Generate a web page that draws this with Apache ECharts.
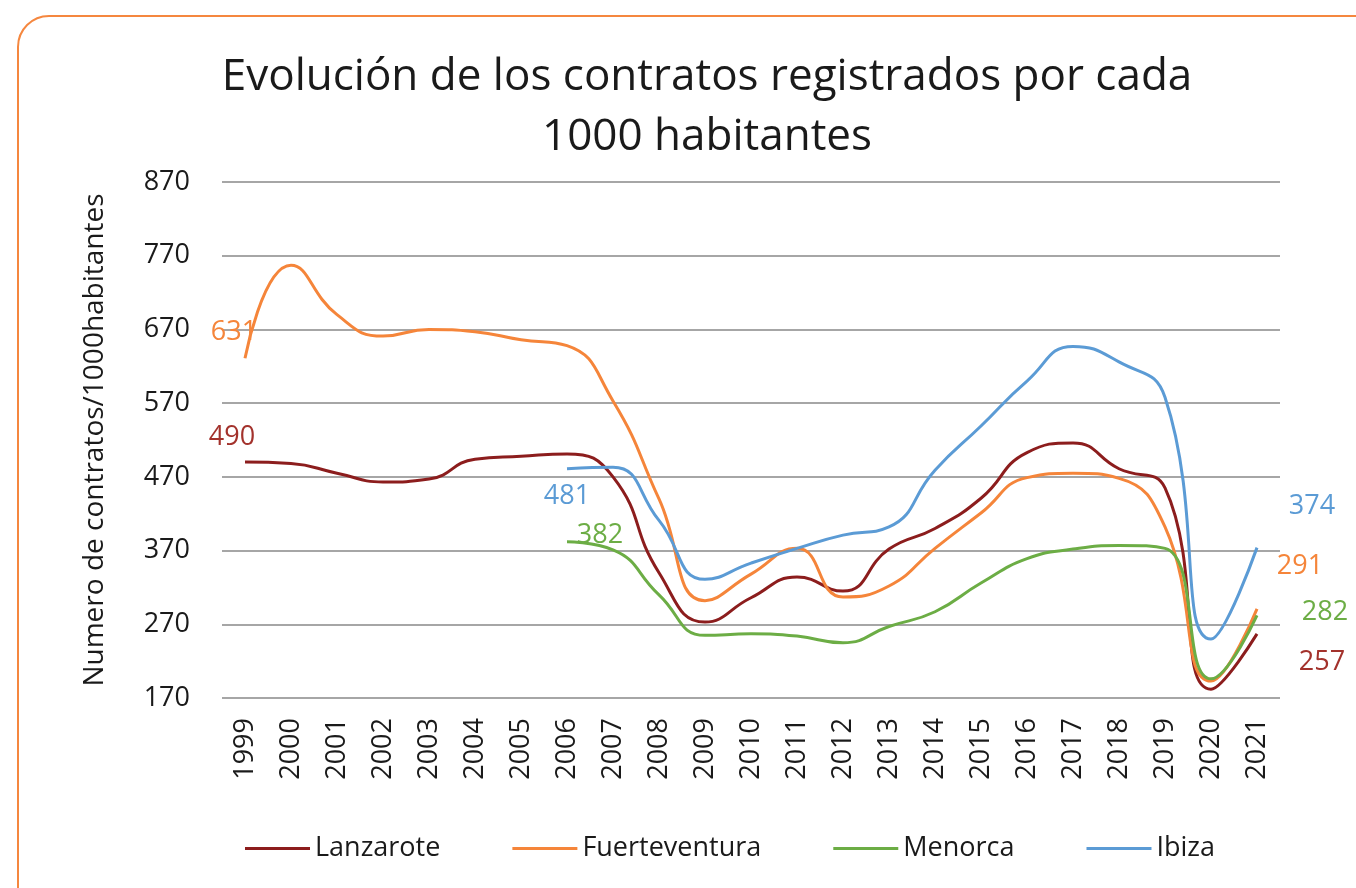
<!DOCTYPE html>
<html>
<head>
<meta charset="utf-8">
<script src="https://cdn.jsdelivr.net/npm/echarts@6/dist/echarts.min.js"></script>
<style>
  html, body { margin: 0; padding: 0; background: #fff; }
  #frame {
    position: absolute; left: 17px; top: 15px;
    width: 1400px; height: 940px;
    border: 2px solid #f5873f; border-radius: 32px;
    box-sizing: border-box;
  }
  #chart { position: absolute; left: 0; top: 0; width: 1356px; height: 888px; }
</style>
</head>
<body>
<div id="frame"></div>
<div id="chart"></div>
<script>
const years = ['1999', '2000', '2001', '2002', '2003', '2004', '2005', '2006', '2007', '2008', '2009',
  '2010', '2011', '2012', '2013', '2014', '2015', '2016', '2017', '2018', '2019', '2020', '2021'];

const lanzarote = [490, 488, 475, 463, 467, 494, 498, 501, 470, 340, 273, 306, 334, 315, 372, 400, 441, 503, 516, 481, 455, 182, 257];
const fuerteventura = [631, 757, 690, 661, 670, 667, 656, 648, 573, 440, 302, 338, 373, 307, 322, 373, 421, 469, 475, 468, 402, 193, 291];
const menorca = [null, null, null, null, null, null, null, 382, 371, 310, 255, 257, 254, 245, 267, 287, 326, 359, 372, 377, 373, 196, 282];
const ibiza = [null, null, null, null, null, null, null, 481, 483, 411, 331, 353, 373, 391, 402, 479, 539, 600, 647, 626, 578, 250, 374];

const yTicks = [170, 270, 370, 470, 570, 670, 770, 870];

const FONT = '"Open Sans", "Noto Sans", sans-serif';

// which points carry a value label, and where it sits relative to the point
const seriesDefs = [
  { name: 'Lanzarote', data: lanzarote, color: '#8c1d1d', labelColor: '#a3322c',
    labels: { 0: [-13, -25], 22: [65, 28] } },
  { name: 'Fuerteventura', data: fuerteventura, color: '#f5853a', labelColor: '#f5853a',
    labels: { 0: [-11, -26], 22: [43, -42] } },
  { name: 'Menorca', data: menorca, color: '#6cad45', labelColor: '#6cad45',
    labels: { 7: [33, -6], 22: [68, -3] } },
  { name: 'Ibiza', data: ibiza, color: '#5b9bd5', labelColor: '#5b9bd5',
    labels: { 7: [0, 28], 22: [55, -41] } }
];

function buildData(def) {
  return def.data.map((v, i) => {
    const off = def.labels[i];
    if (!off || v == null) return v;
    return {
      value: v,
      label: {
        show: true, position: 'inside', offset: off,
        color: def.labelColor, fontSize: 27, fontFamily: FONT
      }
    };
  });
}

const chart = echarts.init(document.getElementById('chart'));

chart.setOption({
  animation: false,
  title: {
    text: 'Evolución de los contratos registrados por cada\n1000 habitantes',
    left: 702,
    top: 42,
    textAlign: 'center',
    textStyle: { fontFamily: FONT, fontSize: 44, fontWeight: 'normal', color: '#1a1a1a', lineHeight: 60 }
  },
  legend: {
    top: 830,
    left: 240,
    icon: 'rect',
    itemWidth: 65,
    itemHeight: 3,
    itemGap: 72,
    textStyle: { fontFamily: FONT, fontSize: 27, color: '#1a1a1a' },
    data: seriesDefs.map(d => d.name)
  },
  grid: { left: 222, right: 76, top: 182, bottom: 190 },
  xAxis: {
    type: 'category',
    data: years,
    boundaryGap: true,
    axisLine: { show: false },
    axisTick: { show: false },
    axisLabel: { rotate: 90, margin: 20, fontFamily: FONT, fontSize: 27, color: '#1a1a1a' },
    splitLine: { show: false }
  },
  yAxis: {
    type: 'value',
    min: 170,
    max: 870,
    interval: 100,
    name: 'Numero de contratos/1000habitantes',
    nameLocation: 'middle',
    nameGap: 113,
    nameTextStyle: { fontFamily: FONT, fontSize: 28, color: '#1a1a1a' },
    axisLine: { show: false },
    axisTick: { show: false, customValues: yTicks },
    axisLabel: { margin: 32, fontFamily: FONT, fontSize: 27, color: '#1a1a1a', customValues: yTicks },
    splitLine: { lineStyle: { color: '#a6a6a6', width: 2 } }
  },
  series: seriesDefs.map(def => ({
    name: def.name,
    type: 'line',
    data: buildData(def),
    smooth: 0.5,
    symbol: 'circle',
    symbolSize: 0,
    showSymbol: true,
    showAllSymbol: true,
    connectNulls: false,
    color: def.color,
    itemStyle: { color: def.color },
    lineStyle: { width: 3, color: def.color },
    emphasis: { disabled: true }
  }))
});
</script>
</body>
</html>
